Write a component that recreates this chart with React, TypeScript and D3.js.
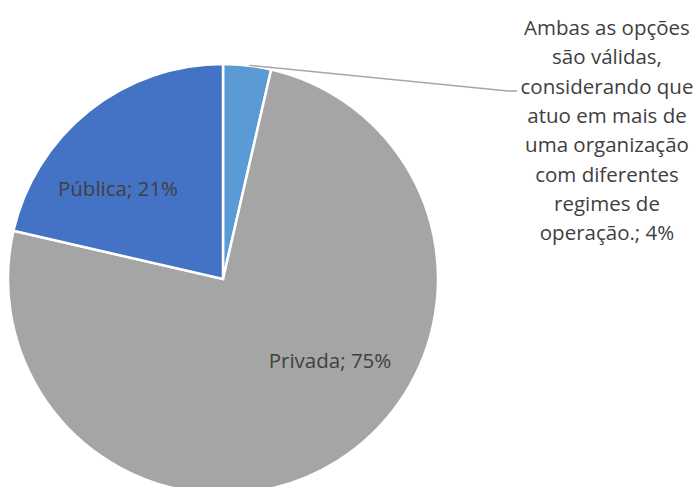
import React from "react";
import * as d3 from "d3";

const categories = [
  "Ambas as opções são válidas, considerando que atuo em mais de uma organização com diferentes regimes de operação.",
  "Privada",
  "Pública",
];
const values = [3.6, 75.0, 21.4];
const colors = ["#5B9BD5", "#A5A5A5", "#4472C4"];
const ambasLines = [
  "Ambas as opções",
  "são válidas,",
  "considerando que",
  "atuo em mais de",
  "uma organização",
  "com diferentes",
  "regimes de",
  "operação.; 4%",
];

export default function App() {
  const W = 699, H = 487;
  const cx = 223, cy = 279, r = 215;
  const pie = d3.pie<number>().sort(null).value((d) => d);
  const arcs = pie(values);
  const arc = d3.arc<d3.PieArcDatum<number>>().innerRadius(0).outerRadius(r);
  const font = "'Open Sans', sans-serif";
  const fs = 20.5;
  const txt = "#404040";

  const a0 = (arcs[0].startAngle + arcs[0].endAngle) / 2;
  const p0: [number, number] = [cx + Math.sin(a0) * r + 2, cy - Math.cos(a0) * r - 0];

  return (
    <svg width={W} height={H} style={{ position: "absolute", left: 0, top: 0, background: "#fff" }}>
      <g transform={`translate(${cx},${cy})`}>
        {arcs.map((a, i) => (
          <path key={i} d={arc(a) as string} fill={colors[i]} stroke="#fff" strokeWidth={2.5} strokeLinejoin="miter" />
        ))}
      </g>
      <polyline
        points={`${p0[0]},${p0[1]} 508,91 517,91`}
        fill="none"
        stroke="#A6A6A6"
        strokeWidth={1.5}
      />
      <text x={118} y={188} textAnchor="middle" dominantBaseline="central" fontFamily={font} fontSize={fs} fill={txt}>
        {`${categories[2]}; ${Math.round(values[2])}%`}
      </text>
      <text x={330} y={360} textAnchor="middle" dominantBaseline="central" fontFamily={font} fontSize={fs} fill={txt}>
        {`${categories[1]}; ${Math.round(values[1])}%`}
      </text>
      {ambasLines.map((l, i) => (
        <text key={i} x={607} y={27 + i * 29.3} textAnchor="middle" dominantBaseline="central" fontFamily={font} fontSize={fs} fill={txt}>
          {l}
        </text>
      ))}
    </svg>
  );
}
